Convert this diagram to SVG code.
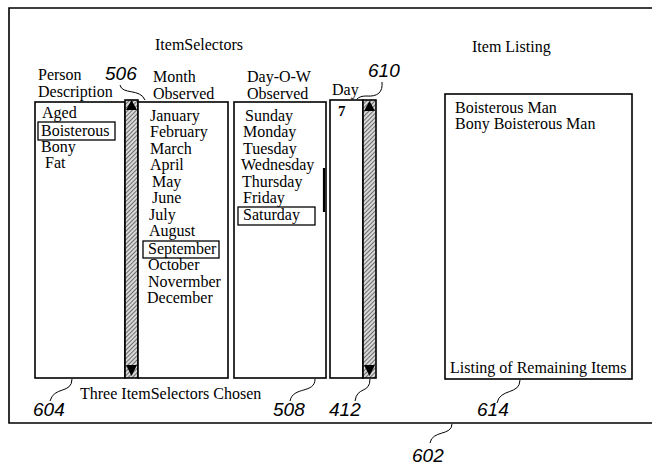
<svg xmlns="http://www.w3.org/2000/svg" width="652" height="466" viewBox="0 0 652 466">
<style>
.t{font-family:"Liberation Serif","Times New Roman",serif;font-size:16px;fill:#000}
.n{font-family:"Liberation Sans",Arial,sans-serif;font-style:italic;font-size:19px;fill:#000}
.box{fill:#fff;stroke:#000;stroke-width:1.6}
.sel{fill:none;stroke:#000;stroke-width:1.3}
.lead{fill:none;stroke:#000;stroke-width:1}
.sb{fill:url(#hatch);stroke:#000;stroke-width:1.6}
</style>
<defs>
<pattern id="hatch" patternUnits="userSpaceOnUse" width="3" height="3" patternTransform="rotate(45)">
<rect width="3" height="3" fill="#d8d8d8"/>
<line x1="0" y1="0" x2="0" y2="3" stroke="#222" stroke-width="1.2"/>
</pattern>
</defs>
<rect width="652" height="466" fill="#fff"/>
<g id="frame">
<path d="M652,8 H9 V423 H652" fill="none" stroke="#000" stroke-width="1.6"/>
</g>
<g id="titles">
<text class="t" x="155" y="50">ItemSelectors</text>
<text class="t" x="472" y="52">Item Listing</text>
</g>
<g id="person-selector">
<text class="t" x="38" y="80">Person</text>
<text class="t" x="38" y="97">Description</text>
<rect class="box" x="35" y="102" width="90" height="276"/>
<text class="t" x="42" y="118">Aged</text>
<rect class="sel" x="38" y="122" width="77" height="18"/>
<text class="t" x="41" y="136">Boisterous</text>
<text class="t" x="41" y="152">Bony</text>
<text class="t" x="45" y="168">Fat</text>
</g>
<g id="scrollbar-506">
<rect class="sb" x="125" y="100" width="13" height="278"/>
<polygon points="126,110 131.5,100 137,110" fill="#000"/>
<polygon points="126,365 137,365 131.5,376" fill="#000"/>
</g>
<g id="month-selector">
<text class="t" x="153" y="82">Month</text>
<text class="t" x="153" y="99">Observed</text>
<rect class="box" x="138" y="102" width="90" height="276"/>
<text class="t" x="150" y="121">January</text>
<text class="t" x="150" y="137">February</text>
<text class="t" x="150" y="154">March</text>
<text class="t" x="150" y="170">April</text>
<text class="t" x="152" y="187">May</text>
<text class="t" x="152" y="203">June</text>
<text class="t" x="149" y="220">July</text>
<text class="t" x="149" y="236">August</text>
<rect class="sel" x="143" y="241" width="76" height="17"/>
<text class="t" x="148" y="254">September</text>
<text class="t" x="148" y="270">October</text>
<text class="t" x="148" y="287">Novermber</text>
<text class="t" x="147" y="303">December</text>
</g>
<g id="dow-selector">
<text class="t" x="247" y="82">Day-O-W</text>
<text class="t" x="247" y="99">Observed</text>
<rect class="box" x="234" y="102" width="92" height="276"/>
<line x1="324" y1="168" x2="324" y2="212" stroke="#000" stroke-width="2.2"/>
<text class="t" x="245" y="121">Sunday</text>
<text class="t" x="243" y="137">Monday</text>
<text class="t" x="243" y="154">Tuesday</text>
<text class="t" x="241" y="170">Wednesday</text>
<text class="t" x="242" y="187">Thursday</text>
<text class="t" x="243" y="203">Friday</text>
<rect class="sel" x="238" y="207" width="77" height="18"/>
<text class="t" x="243" y="220">Saturday</text>
</g>
<g id="day-selector">
<text class="t" x="332" y="95">Day</text>
<rect class="box" x="330" y="100" width="33" height="278"/>
<text class="t" x="338" y="116" style="font-size:15px;font-weight:bold">7</text>
</g>
<g id="scrollbar-412">
<rect class="sb" x="363" y="100" width="13" height="278"/>
<polygon points="364,111 369.5,101 375,111" fill="#000"/>
<polygon points="364,365 375,365 369.5,376" fill="#000"/>
</g>
<g id="item-listing">
<rect class="box" x="445" y="94" width="187" height="285"/>
<text class="t" x="455" y="113">Boisterous Man</text>
<text class="t" x="455" y="129">Bony Boisterous Man</text>
<text class="t" x="450" y="373">Listing of Remaining Items</text>
</g>
<g id="caption">
<text class="t" x="80" y="399">Three ItemSelectors Chosen</text>
</g>
<g id="connectors">
<path class="lead" d="M120,85 C122,95 140,88 145,100"/>
<path class="lead" d="M382,82 C383,92 378,97 366,96 C362,96 359,97 357,99"/>
<path class="lead" d="M72,379 C72,394 54,386 50,401"/>
<path class="lead" d="M315,379 C315,394 293,386 290,401"/>
<path class="lead" d="M370,379 C370,394 357,386 355,401"/>
<path class="lead" d="M520,380 C520,395 500,388 497,403"/>
<path class="lead" d="M452,424 C452,436 432,430 430,443"/>
</g>
<g id="labels">
<text class="n" x="105" y="80">506</text>
<text class="n" x="368" y="77">610</text>
<text class="n" x="33" y="416">604</text>
<text class="n" x="273" y="416">508</text>
<text class="n" x="329" y="416">412</text>
<text class="n" x="477" y="416">614</text>
<text class="n" x="412" y="462">602</text>
</g>
</svg>
